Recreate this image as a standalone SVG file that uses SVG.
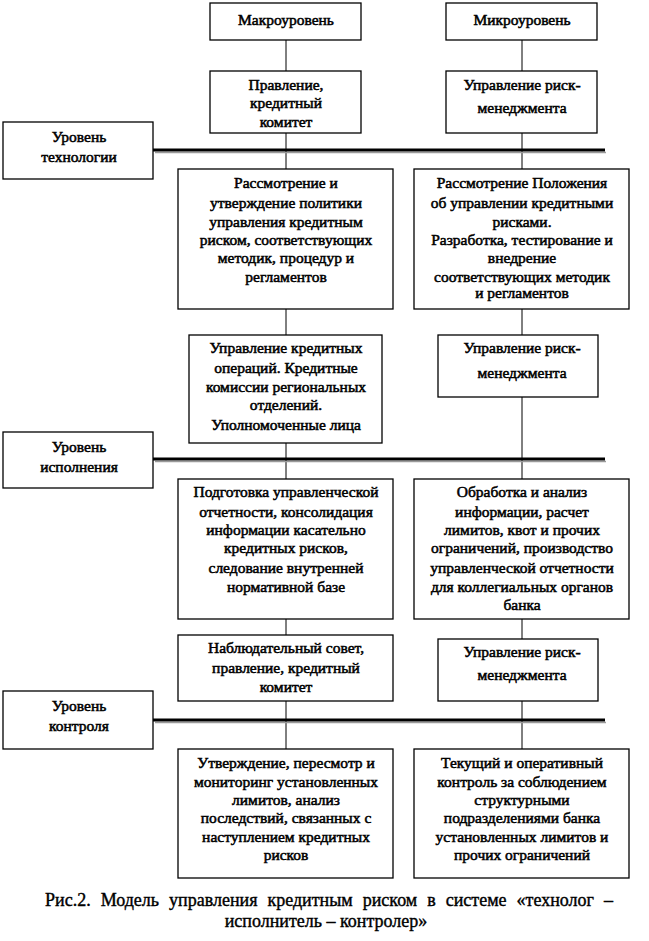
<svg xmlns="http://www.w3.org/2000/svg" width="649" height="941" viewBox="0 0 649 941">
<style>
.box{fill:#fff;stroke:#000;stroke-width:1.3}
.t{font-family:"Liberation Serif","Times New Roman",serif;font-size:15.5px;font-weight:normal;text-anchor:middle;fill:#000;stroke:#000;stroke-width:0.55}
.cap{font-family:"Liberation Serif","Times New Roman",serif;font-size:18px;text-anchor:middle;fill:#000;stroke:#000;stroke-width:0.4}
.ln{stroke:#000;stroke-width:1;fill:none}
.thick{stroke:#000;stroke-width:3}
.shadow{stroke:#9a9a9a;stroke-width:1.5}
</style>
<rect width="649" height="941" fill="#fff"/>
<g id="connectors">
<line class="ln" x1="286" y1="40" x2="286" y2="71"/>
<line class="ln" x1="286" y1="133" x2="286" y2="169"/>
<line class="ln" x1="522" y1="40" x2="522" y2="71"/>
<line class="ln" x1="522" y1="133" x2="522" y2="169"/>
<line class="ln" x1="286" y1="309" x2="286" y2="335"/>
<line class="ln" x1="286" y1="443" x2="286" y2="479"/>
<line class="ln" x1="522" y1="309" x2="522" y2="335"/>
<line class="ln" x1="522" y1="397" x2="522" y2="479"/>
<line class="ln" x1="286" y1="619" x2="286" y2="635"/>
<line class="ln" x1="286" y1="701" x2="286" y2="749"/>
<line class="ln" x1="522" y1="619" x2="522" y2="639"/>
<line class="ln" x1="522" y1="701" x2="522" y2="749"/>
<line class="shadow" x1="155" y1="152.5" x2="606" y2="152.5"/>
<line class="thick" x1="153" y1="150" x2="605" y2="150"/>
<line class="shadow" x1="155" y1="461.5" x2="606" y2="461.5"/>
<line class="thick" x1="153" y1="459" x2="605" y2="459"/>
<line class="shadow" x1="155" y1="722.5" x2="606" y2="722.5"/>
<line class="thick" x1="153" y1="720" x2="605" y2="720"/>
</g>
<g id="macro"><rect class="box" x="210" y="3" width="151" height="37"/>
<text class="t" x="286" y="25">Макроуровень</text></g>
<g id="micro"><rect class="box" x="446" y="3" width="151" height="37"/>
<text class="t" x="522" y="25">Микроуровень</text></g>
<g id="board1"><rect class="box" x="210" y="71" width="151" height="62"/>
<text class="t" x="286" y="90">Правление,</text>
<text class="t" x="286" y="108">кредитный</text>
<text class="t" x="286" y="127">комитет</text></g>
<g id="risk1"><rect class="box" x="446" y="71" width="151" height="62"/>
<text class="t" x="522" y="90">Управление риск-</text>
<text class="t" x="522" y="113">менеджмента</text></g>
<g id="level-tech"><rect class="box" x="3" y="122" width="150" height="57"/>
<text class="t" x="79" y="142">Уровень</text>
<text class="t" x="79" y="162">технологии</text></g>
<g id="tech-left"><rect class="box" x="178" y="169" width="215" height="140"/>
<text class="t" x="286" y="188">Рассмотрение и</text>
<text class="t" x="286" y="208">утверждение политики</text>
<text class="t" x="286" y="227">управления кредитным</text>
<text class="t" x="286" y="245">риском, соответствующих</text>
<text class="t" x="286" y="263">методик, процедур и</text>
<text class="t" x="286" y="282">регламентов</text></g>
<g id="tech-right"><rect class="box" x="414" y="169" width="215" height="140"/>
<text class="t" x="522" y="188">Рассмотрение Положения</text>
<text class="t" x="522" y="208">об управлении кредитными</text>
<text class="t" x="522" y="227">рисками.</text>
<text class="t" x="522" y="245">Разработка, тестирование и</text>
<text class="t" x="522" y="263">внедрение</text>
<text class="t" x="522" y="282">соответствующих  методик</text>
<text class="t" x="522" y="298">и регламентов</text></g>
<g id="ops"><rect class="box" x="189" y="335" width="193" height="108"/>
<text class="t" x="286" y="353">Управление кредитных</text>
<text class="t" x="286" y="373">операций. Кредитные</text>
<text class="t" x="286" y="392">комиссии региональных</text>
<text class="t" x="286" y="410">отделений.</text>
<text class="t" x="286" y="430">Уполномоченные лица</text></g>
<g id="risk2"><rect class="box" x="438" y="335" width="160" height="62"/>
<text class="t" x="522" y="353">Управление риск-</text>
<text class="t" x="522" y="378">менеджмента</text></g>
<g id="level-exec"><rect class="box" x="3" y="432" width="150" height="56"/>
<text class="t" x="79" y="452">Уровень</text>
<text class="t" x="79" y="472">исполнения</text></g>
<g id="exec-left"><rect class="box" x="178" y="479" width="215" height="140"/>
<text class="t" x="286" y="497">Подготовка управленческой</text>
<text class="t" x="286" y="517">отчетности, консолидация</text>
<text class="t" x="286" y="535">информации касательно</text>
<text class="t" x="286" y="553">кредитных рисков,</text>
<text class="t" x="286" y="573">следование внутренней</text>
<text class="t" x="286" y="592">нормативной базе</text></g>
<g id="exec-right"><rect class="box" x="414" y="479" width="215" height="140"/>
<text class="t" x="522" y="497">Обработка и анализ</text>
<text class="t" x="522" y="517">информации, расчет</text>
<text class="t" x="522" y="535">лимитов, квот и прочих</text>
<text class="t" x="522" y="553">ограничений, производство</text>
<text class="t" x="522" y="573">управленческой  отчетности</text>
<text class="t" x="522" y="592">для коллегиальных  органов</text>
<text class="t" x="522" y="610">банка</text></g>
<g id="supervisory"><rect class="box" x="178" y="635" width="215" height="66"/>
<text class="t" x="286" y="653">Наблюдательный совет,</text>
<text class="t" x="286" y="673">правление, кредитный</text>
<text class="t" x="286" y="692">комитет</text></g>
<g id="risk3"><rect class="box" x="438" y="639" width="160" height="62"/>
<text class="t" x="522" y="657">Управление риск-</text>
<text class="t" x="522" y="680">менеджмента</text></g>
<g id="level-control"><rect class="box" x="3" y="691" width="150" height="58"/>
<text class="t" x="79" y="711">Уровень</text>
<text class="t" x="79" y="731">контроля</text></g>
<g id="control-left"><rect class="box" x="178" y="749" width="215" height="129"/>
<text class="t" x="286" y="768">Утверждение, пересмотр и</text>
<text class="t" x="286" y="787">мониторинг установленных</text>
<text class="t" x="286" y="805">лимитов, анализ</text>
<text class="t" x="286" y="823">последствий, связанных с</text>
<text class="t" x="286" y="842">наступлением кредитных</text>
<text class="t" x="286" y="860">рисков</text></g>
<g id="control-right"><rect class="box" x="414" y="749" width="215" height="129"/>
<text class="t" x="522" y="768">Текущий  и оперативный</text>
<text class="t" x="522" y="787">контроль за соблюдением</text>
<text class="t" x="522" y="805">структурными</text>
<text class="t" x="522" y="823">подразделениями банка</text>
<text class="t" x="522" y="842">установленных лимитов и</text>
<text class="t" x="522" y="860">прочих ограничений</text></g>
<g id="caption">
<text class="cap" x="329" y="906" word-spacing="5.5">Рис.2. Модель управления кредитным риском в системе «технолог –</text>
<text class="cap" x="326" y="927">исполнитель – контролер»</text>
</g>
</svg>
